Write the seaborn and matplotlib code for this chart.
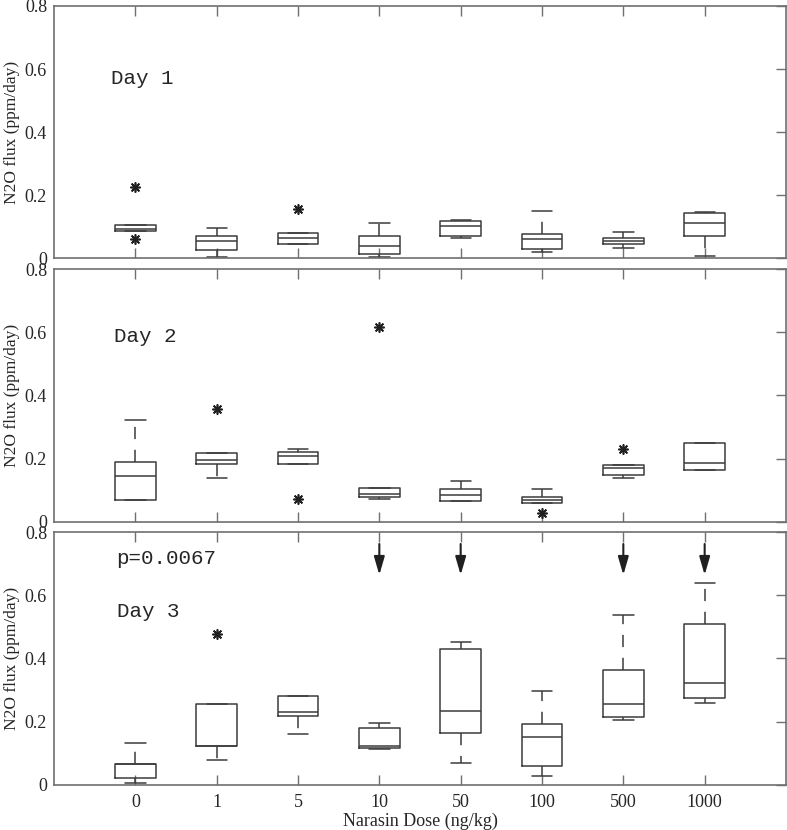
import numpy as np
import pandas as pd
import matplotlib
matplotlib.use("Agg")
import matplotlib.pyplot as plt
import seaborn as sns

# ---- data (five-number summaries per dose) ----
doses = ['0', '1', '5', '10', '50', '100', '500', '1000']

d1_lo  = [0.087, 0.002, 0.045, 0.002, 0.065, 0.019, 0.032, 0.006]
d1_q1  = [0.087, 0.026, 0.046, 0.013, 0.069, 0.027, 0.045, 0.069]
d1_med = [0.092, 0.053, 0.064, 0.039, 0.101, 0.061, 0.054, 0.111]
d1_q3  = [0.106, 0.069, 0.080, 0.071, 0.117, 0.077, 0.065, 0.144]
d1_hi  = [0.106, 0.095, 0.080, 0.110, 0.122, 0.150, 0.083, 0.145]
d1_out_dose = ['0', '0', '5']
d1_out_val  = [0.226, 0.060, 0.157]

d2_lo  = [0.070, 0.139, 0.182, 0.071, 0.065, 0.058, 0.139, 0.163]
d2_q1  = [0.070, 0.184, 0.182, 0.077, 0.065, 0.058, 0.148, 0.163]
d2_med = [0.145, 0.195, 0.209, 0.087, 0.084, 0.070, 0.169, 0.187]
d2_q3  = [0.190, 0.216, 0.221, 0.107, 0.103, 0.079, 0.179, 0.248]
d2_hi  = [0.323, 0.216, 0.229, 0.107, 0.129, 0.102, 0.179, 0.248]
d2_out_dose = ['1', '5', '10', '100', '500']
d2_out_val  = [0.356, 0.072, 0.617, 0.029, 0.229]

d3_lo  = [0.004, 0.078, 0.162, 0.113, 0.069, 0.027, 0.204, 0.260]
d3_q1  = [0.020, 0.123, 0.218, 0.115, 0.164, 0.059, 0.214, 0.275]
d3_med = [0.064, 0.123, 0.230, 0.123, 0.234, 0.150, 0.257, 0.322]
d3_q3  = [0.067, 0.255, 0.280, 0.180, 0.431, 0.192, 0.362, 0.510]
d3_hi  = [0.133, 0.255, 0.280, 0.196, 0.451, 0.297, 0.537, 0.638]
d3_out_dose = ['1']
d3_out_val  = [0.478]

arrow_doses = ['10', '50', '500', '1000']
ytick_vals = [0, 0.2, 0.4, 0.6, 0.8]
ytick_labels = ['0', '0.2', '0.4', '0.6', '0.8']

# =========================================================
# STYLE
# =========================================================
sns.set_style("ticks")
plt.rcParams['font.family'] = ['Liberation Serif', 'DejaVu Serif']
plt.rcParams['xtick.direction'] = 'in'
plt.rcParams['ytick.direction'] = 'in'

line_col = '#3c3c3c'
spine_col = '#707070'
mono = ['Liberation Mono', 'DejaVu Sans Mono']

fig = plt.figure(figsize=(7.87, 8.30), dpi=100)
ax_rects = [
    [54 / 787, (830 - 258) / 830, 732 / 787, 252 / 830],
    [54 / 787, (830 - 521.7) / 830, 732 / 787, 252.7 / 830],
    [54 / 787, (830 - 784.7) / 830, 732 / 787, 252.7 / 830],
]

days = [
    (d1_lo, d1_q1, d1_med, d1_q3, d1_hi, d1_out_dose, d1_out_val),
    (d2_lo, d2_q1, d2_med, d2_q3, d2_hi, d2_out_dose, d2_out_val),
    (d3_lo, d3_q1, d3_med, d3_q3, d3_hi, d3_out_dose, d3_out_val),
]

for i, (lo, q1, med, q3, hi, out_d, out_v) in enumerate(days):
    ax = fig.add_axes(ax_rects[i])

    # five points per dose -> quartiles/whiskers land exactly on the read values
    rows = []
    for k, d in enumerate(doses):
        for v in (lo[k], q1[k], med[k], q3[k], hi[k]):
            rows.append({'dose': d, 'flux': v})
    df = pd.DataFrame(rows)

    sns.boxplot(
        data=df, x='dose', y='flux', order=doses, ax=ax,
        width=0.5, whis=(0, 100), showfliers=False, fill=False,
        color=line_col, linewidth=1.1,
        whiskerprops=dict(linestyle=(0, (8, 7))),
    )

    # outliers as asterisks
    out_x = [doses.index(d) for d in out_d]
    sns.scatterplot(x=out_x, y=out_v, ax=ax, marker=(8, 2, 0),
                    color='#202020', s=45, linewidth=1.2, legend=False)

    ax.set_xlim(-1, 8)
    ax.set_ylim(0, 0.8)
    ax.set_yticks(ytick_vals)
    ax.set_yticklabels(ytick_labels)
    ax.set_xticks(range(len(doses)))
    ax.tick_params(axis='y', left=False, right=True, labelleft=True,
                   length=7, width=1, color=spine_col, labelsize=13, pad=5)
    ax.tick_params(axis='x', top=True, bottom=True, length=7, width=1,
                   color=spine_col, labelsize=13, pad=7)
    for s in ax.spines.values():
        s.set_visible(True)
        s.set_color(spine_col)
        s.set_linewidth(1.2)
    ax.set_ylabel('N2O flux (ppm/day)', fontsize=12.5)
    ax.yaxis.set_label_coords(-0.047, 0.5)

    if i < 2:
        ax.set_xlabel('')
        ax.tick_params(axis='x', labelbottom=False)
    else:
        ax.set_xticklabels(doses)
        ax.set_xlabel('Narasin Dose (ng/kg)', fontsize=13, labelpad=1)

    if i == 0:
        ax.text(-0.30, 0.571, 'Day 1', family=mono, fontsize=15, va='center')
    elif i == 1:
        ax.text(-0.26, 0.586, 'Day 2', family=mono, fontsize=15, va='center')
    else:
        ax.text(-0.23, 0.716, 'p=0.0067', family=mono, fontsize=15, va='center')
        ax.text(-0.23, 0.548, 'Day 3', family=mono, fontsize=15, va='center')
        for d in arrow_doses:
            xpos = doses.index(d)
            ax.annotate('', xy=(xpos, 0.664), xytext=(xpos, 0.762),
                        arrowprops=dict(arrowstyle='-|>,head_length=0.55,head_width=0.16',
                                        mutation_scale=20, color='#202020', lw=1.5,
                                        shrinkA=0, shrinkB=0))

plt.savefig("out.png", dpi=100)
plt.close()
